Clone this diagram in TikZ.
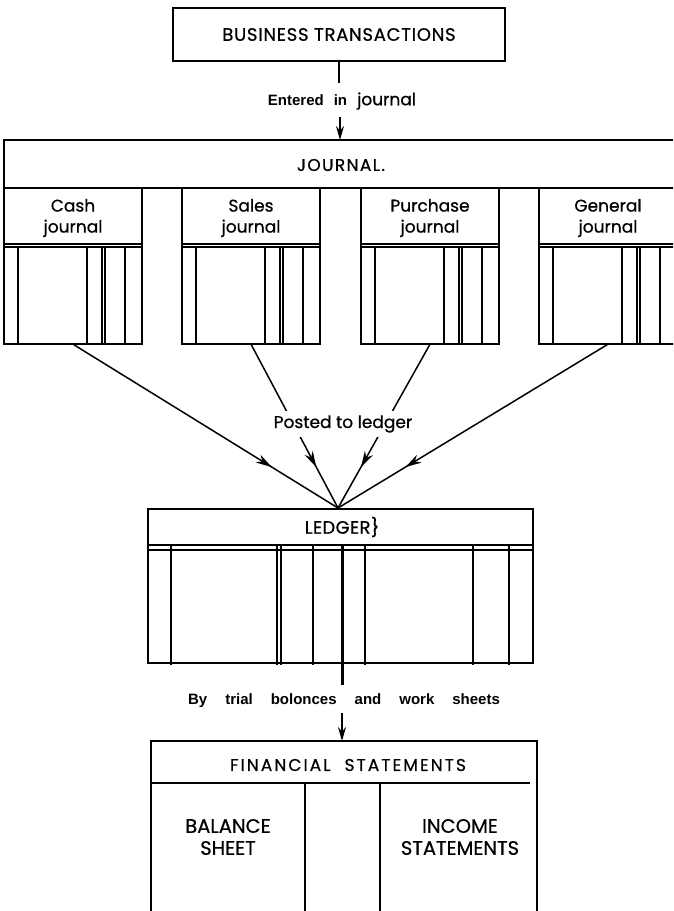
\documentclass[tikz,border=0pt]{standalone}
\usepackage{fontspec}
\setmainfont{Liberation Sans}
\newfontfamily\geo[FakeBold=0.6]{Poppins}
\usetikzlibrary{arrows.meta,decorations.markings}
\tikzset{
  thin line/.style={line width=1.5pt},
  thick line/.style={line width=2.3pt},
  geolbl/.style={font=\geo\fontsize{17}{20}\selectfont, align=center, inner sep=0pt},
  capslbl/.style={font=\geo\fontsize{17}{20}\selectfont\addfontfeature{LetterSpace=8}, align=center, inner sep=0pt},
  boldlbl/.style={font=\bfseries\fontsize{15}{18}\selectfont, inner sep=0pt},
  tip/.style={-{Stealth[length=14pt,width=8pt]}},
  midtip/.style={postaction={decorate}, decoration={markings, mark=at position 0.75 with {\arrow{Stealth[length=16pt,width=9pt]}}}},
}
\begin{document}
\begin{tikzpicture}[x=1pt,y=-1pt]
\clip (0,0) rectangle (673,911);
\fill[white] (0,0) rectangle (673,911);

% Business transactions
\node[draw, thin line, minimum width=332pt, minimum height=53pt, capslbl, font=\geo\fontsize{18}{21}\selectfont\addfontfeature{LetterSpace=4}] (bt) at (339,34.5) {BUSINESS TRANSACTIONS};
\node[inner sep=0pt, inner ysep=6pt] (ent) at (342,101) {\bfseries\fontsize{15}{18}\selectfont Entered\hspace{10pt}in\hspace{10pt}{\geo\mdseries\fontsize{17}{20}\selectfont journal}};
\draw[thin line] (bt.south) -- (bt.south |- 0,83);
\draw[thin line, tip] (340,117) -- (340,140);

% Journal header
\node[capslbl] (jhead) at (341,165) {JOURNAL.};
\draw[thick line] (673,140) -- (4,140) -- (4,188);
\draw[thin line] (4,188) -- (673,188);

% Journal sub boxes
\foreach \L/\a/\b/\n in {4/Cash/journal/1, 182/Sales/journal/2, 361/Purchase/journal/3, 539/General/journal/4}{
  \draw[thin line] (\L,188) rectangle ++(138,156);
  \draw[thin line] (\L,244) -- ++(138,0);
  \draw[thin line] (\L,247) -- ++(138,0);
  \foreach \o in {14,83,98,101,121}{
    \draw[thin line] (\L+\o,247) -- (\L+\o,344);
  }
  \node[geolbl] (jt\n) at (\L+69,218) {\a\\[1pt]\b};
  \node[minimum width=138pt, minimum height=156pt, inner sep=0pt] (jb\n) at (\L+69,266) {};
}

% Ledger
\node[draw, thick line, minimum width=385pt, minimum height=154pt, inner sep=0pt] (led) at (340.5,586) {};
\coordinate (conv) at (338,508);
\draw[thick line] (148,545) -- (533,545);
\draw[thin line] (148,550) -- (533,550);
\foreach \x in {171,277,281,313,365,473,509}{
  \draw[thick line] (\x,545) -- (\x,665);
}
\node[capslbl, font=\geo\fontsize{18}{21}\selectfont\addfontfeature{LetterSpace=2}] (ledt) at (342,527) {LEDGER\}};

% Posting arrows
\foreach \n in {1,2,3,4}{
  \draw[thin line, midtip] (jb\n.south) -- (conv);
}
\node[geolbl, fill=white, inner xsep=2pt, inner ysep=4pt] (post) at (343,424) {Posted to ledger};

% Trial balances
\node[boldlbl, inner ysep=6pt] (by) at (344,701) {By\hspace{18pt}trial\hspace{18pt}bolonces\hspace{18pt}and\hspace{18pt}work\hspace{18pt}sheets};
\draw[line width=3pt] (342,545) -- (342,685);
\draw[thin line, tip] (342,713) -- (342,741);

% Financial statements
\draw[thick line] (151,911) -- (151,741) -- (537,741) -- (537,911);
\draw[thin line] (151,783) -- (530,783);
\draw[thin line] (305,783) -- (305,911);
\draw[thin line] (380,783) -- (380,911);
\node[capslbl, font=\geo\fontsize{17}{20}\selectfont\addfontfeature{LetterSpace=12}] (fst) at (348,765) {FINANCIAL\hspace{14pt}STATEMENTS};
\node[geolbl, font=\geo\fontsize{19.5}{22}\selectfont] (bs) at (228,837) {BALANCE\\SHEET};
\node[geolbl, font=\geo\fontsize{19.5}{22}\selectfont] (is) at (460,837) {INCOME\\STATEMENTS};
\end{tikzpicture}
\end{document}
